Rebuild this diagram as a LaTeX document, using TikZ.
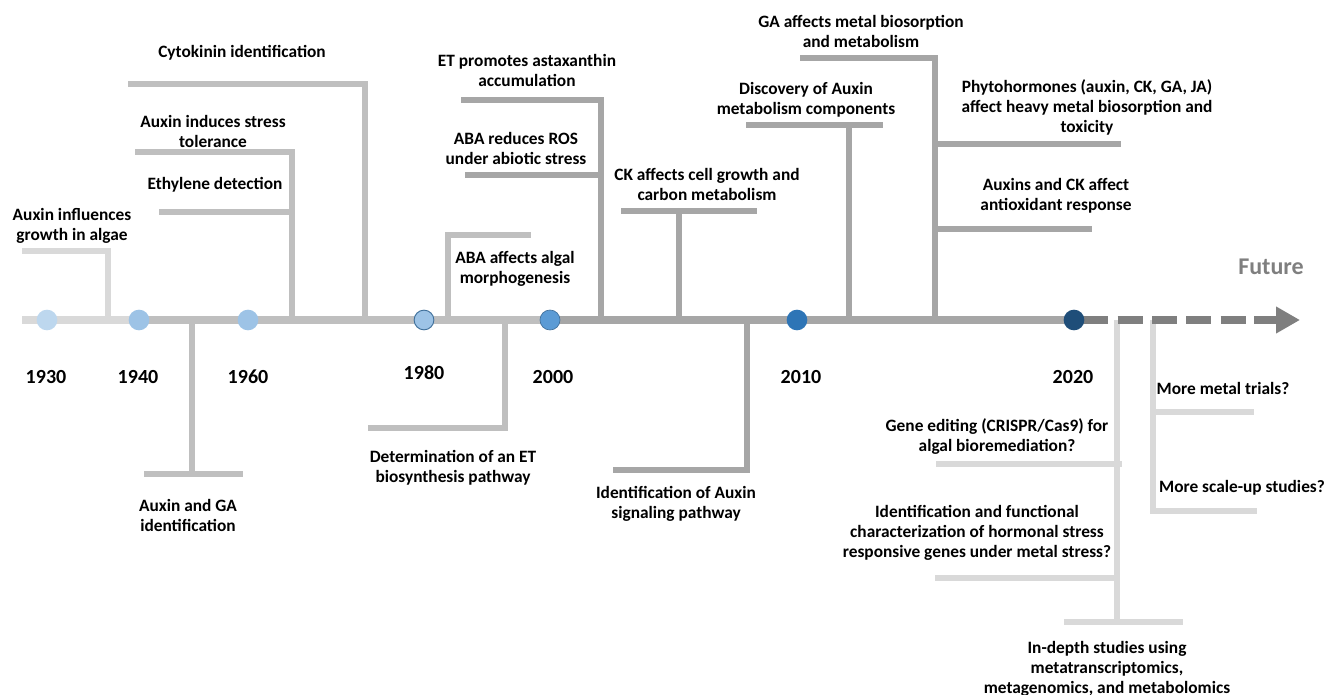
\documentclass[tikz,border=0pt]{standalone}
\usepackage{fontspec}
\setmainfont{Carlito}
\usetikzlibrary{arrows.meta}
\definecolor{gA}{HTML}{D9D9D9}
\definecolor{gB}{HTML}{BFBFBF}
\definecolor{gC}{HTML}{A6A6A6}
\definecolor{gD}{HTML}{7F7F7F}
\definecolor{b1}{HTML}{BDD7EE}
\definecolor{b2}{HTML}{9DC3E6}
\definecolor{b3}{HTML}{5B9BD5}
\definecolor{b4}{HTML}{2E75B6}
\definecolor{b5}{HTML}{1F4E79}
\definecolor{bo}{HTML}{41719C}
\begin{document}
\begin{tikzpicture}[x=0.75pt,y=-0.75pt,
  lbl/.style={font=\bfseries\fontsize{13}{15}\selectfont, align=center, inner sep=0pt, text=black, yshift=-1.2pt},
  yr/.style={font=\bfseries\fontsize{15}{18}\selectfont, inner sep=0pt, text=black},
  brA/.style={draw=gA, line width=4.3pt},
  brB/.style={draw=gB, line width=4.3pt},
  brC/.style={draw=gC, line width=4.3pt},
  axisline/.style={line width=5.5pt},
  dot/.style={circle, minimum size=15.5pt, inner sep=0pt, draw=none}]
\useasboundingbox (0,0) rectangle (1336,695);

% ---- branch coordinates
\coordinate (k1a) at (22,251); \coordinate (k1b) at (108,251); \coordinate (k1c) at (108,320);
\coordinate (k2a) at (135,152); \coordinate (k2b) at (292,152); \coordinate (k2c) at (292,320);
\coordinate (k2d) at (159,212); \coordinate (k2e) at (292,212);
\coordinate (k3a) at (128,84); \coordinate (k3b) at (365,84); \coordinate (k3c) at (365,320);
\coordinate (k4a) at (192,320); \coordinate (k4b) at (192,474);
\coordinate (k4c) at (144,474); \coordinate (k4d) at (243,474);
\coordinate (k5a) at (448,320); \coordinate (k5b) at (448,235); \coordinate (k5c) at (531,235);
\coordinate (k6a) at (505,320); \coordinate (k6b) at (505,428); \coordinate (k6c) at (368,428);
\coordinate (k7a) at (461,100); \coordinate (k7b) at (601,100); \coordinate (k7c) at (601,320);
\coordinate (k7d) at (465,175); \coordinate (k7e) at (601,175);
\coordinate (k8a) at (679,320); \coordinate (k8b) at (679,211);
\coordinate (k8c) at (621,211); \coordinate (k8d) at (757,211);
\coordinate (k9a) at (747,320); \coordinate (k9b) at (747,470); \coordinate (k9c) at (613,470);
\coordinate (k10a) at (849,320); \coordinate (k10b) at (849,125);
\coordinate (k10c) at (746,125); \coordinate (k10d) at (883,125);
\coordinate (k11a) at (800,58); \coordinate (k11b) at (935,58); \coordinate (k11c) at (935,320);
\coordinate (k11d) at (935,144); \coordinate (k11e) at (1121,144);
\coordinate (k11f) at (935,229); \coordinate (k11g) at (1092,229);
\coordinate (k12a) at (1117,320); \coordinate (k12b) at (1117,622);
\coordinate (k12c) at (936,464); \coordinate (k12d) at (1122,464);
\coordinate (k12e) at (935,578); \coordinate (k12f) at (1117,578);
\coordinate (k12g) at (1064,622); \coordinate (k12h) at (1183,622);
\coordinate (k13a) at (1153,320); \coordinate (k13b) at (1153,511); \coordinate (k13c) at (1257,511);
\coordinate (k13d) at (1153,412); \coordinate (k13e) at (1254,412);

% ---- branches
\draw[brA] (k1a) -- (k1b) -- (k1c);
\draw[brB] (k2a) -- (k2b) -- (k2c);
\draw[brB] (k2d) -- (k2e);
\draw[brB] (k3a) -- (k3b) -- (k3c);
\draw[brB] (k4a) -- (k4b);
\draw[brB] (k4c) -- (k4d);
\draw[brB] (k5a) -- (k5b) -- (k5c);
\draw[brB] (k6a) -- (k6b) -- (k6c);
\draw[brC] (k7a) -- (k7b) -- (k7c);
\draw[brC] (k7d) -- (k7e);
\draw[brC] (k8a) -- (k8b);
\draw[brC] (k8c) -- (k8d);
\draw[brC] (k9a) -- (k9b) -- (k9c);
\draw[brC] (k10a) -- (k10b);
\draw[brC] (k10c) -- (k10d);
\draw[brC] (k11a) -- (k11b) -- (k11c);
\draw[brC] (k11d) -- (k11e);
\draw[brC] (k11f) -- (k11g);
\draw[brA] (k12a) -- (k12b);
\draw[brA] (k12c) -- (k12d);
\draw[brA] (k12e) -- (k12f);
\draw[brA] (k12g) -- (k12h);
\draw[brA] (k13a) -- (k13b) -- (k13c);
\draw[brA] (k13d) -- (k13e);

% ---- main axis
\coordinate (a0) at (22,320);
\coordinate (p1930) at (47,320);
\coordinate (p1940) at (139,320);
\coordinate (p1960) at (248,320);
\coordinate (p1980) at (424,320);
\coordinate (p2000) at (550,320);
\coordinate (p2010) at (797,320);
\coordinate (p2020) at (1074,320);
\coordinate (f1) at (1254,320);
\coordinate (f2) at (1300,320);
\draw[axisline, gA] (a0) -- (p1940);
\draw[axisline, gB] (p1940) -- (p2000);
\draw[axisline, gC] (p2000) -- (p2020);
\draw[axisline, gD, dash pattern=on 18.75pt off 7pt, dash phase=18.75pt] (p2020) -- (f1);
\draw[axisline, gD, -{Triangle[length=18pt,width=19pt]}] (f1) -- (f2);

% ---- dots
\node[dot, fill=b1] (d1930) at (p1930) {};
\node[dot, fill=b2] (d1940) at (p1940) {};
\node[dot, fill=b2] (d1960) at (p1960) {};
\node[dot, fill=b2, draw=bo, line width=0.7pt, minimum size=14.8pt] (d1980) at (p1980) {};
\node[dot, fill=b3, draw=bo, line width=0.5pt, minimum size=15pt] (d2000) at (p2000) {};
\node[dot, fill=b4] (d2010) at (p2010) {};
\node[dot, fill=b5] (d2020) at (p2020) {};

% ---- years
\node[yr] (y1930) at (46,377) {1930};
\node[yr] (y1940) at (138,377) {1940};
\node[yr] (y1960) at (248,377) {1960};
\node[yr] (y1980) at (424,373) {1980};
\node[yr] (y2000) at (553,377) {2000};
\node[yr] (y2010) at (801,377) {2010};
\node[yr] (y2020) at (1073,377) {2020};
\node[font=\bfseries\fontsize{18}{20}\selectfont, text=gD, inner sep=0pt] (fut) at (1271,267) {Future};

% ---- labels
\node[lbl] (t1) at (72,224) {Auxin influences\\growth in algae};
\node[lbl] (t2) at (242,51) {Cytokinin identification};
\node[lbl] (t3) at (213,130) {Auxin induces stress\\tolerance};
\node[lbl] (t4) at (215,183) {Ethylene detection};
\node[lbl] (t5) at (188,514) {Auxin and GA\\identification};
\node[lbl] (t6) at (515,267) {ABA affects algal\\morphogenesis};
\node[lbl] (t7) at (453,466) {Determination of an ET\\biosynthesis pathway};
\node[lbl] (t8) at (527,69) {ET promotes astaxanthin\\accumulation};
\node[lbl] (t9) at (516,147) {ABA reduces ROS\\under abiotic stress};
\node[lbl] (t10) at (707,183) {CK affects cell growth and\\carbon metabolism};
\node[lbl] (t11) at (676,502) {Identification of Auxin\\signaling pathway};
\node[lbl] (t12) at (806,98) {Discovery of Auxin\\metabolism components};
\node[lbl] (t13) at (861,30) {GA affects metal biosorption\\and metabolism};
\node[lbl] (t14) at (1087,106) {Phytohormones (auxin, CK, GA, JA)\\affect heavy metal biosorption and\\toxicity};
\node[lbl] (t15) at (1056,194) {Auxins and CK affect\\antioxidant response};
\node[lbl] (t16) at (997,435) {Gene editing (CRISPR/Cas9) for\\algal bioremediation?};
\node[lbl] (t17) at (977,531) {Identification and functional\\characterization of hormonal stress\\responsive genes under metal stress?};
\node[lbl] (t18) at (1107,667) {In-depth studies using\\metatranscriptomics,\\metagenomics, and metabolomics};
\node[lbl] (t19) at (1223,387) {More metal trials?};
\node[lbl] (t20) at (1242,486) {More scale-up studies?};
\end{tikzpicture}
\end{document}
